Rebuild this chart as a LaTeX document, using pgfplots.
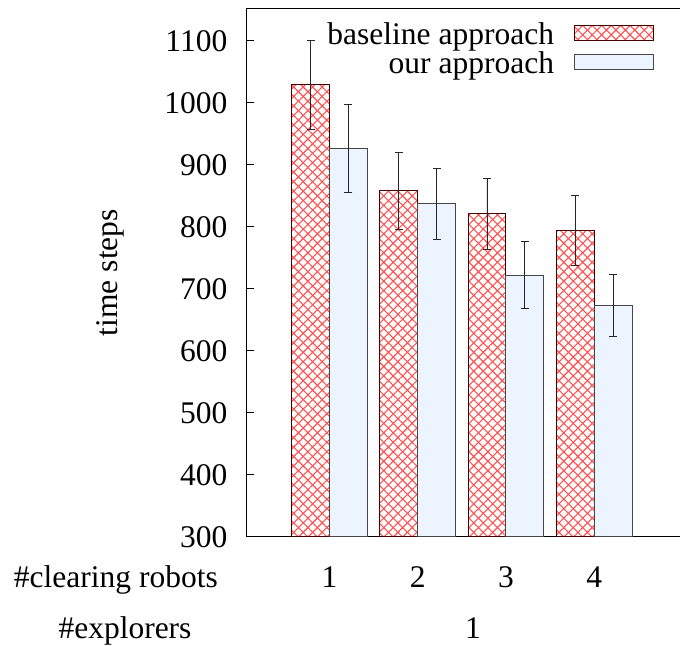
\documentclass[border=0pt]{standalone}
\usepackage{pgfplots}
\pgfplotsset{compat=1.18}
\usepackage{fontspec}
\setmainfont{Liberation Serif}
\usetikzlibrary{patterns.meta}
\newcommand\myfont{\fontsize{31.5bp}{37bp}\selectfont}
\definecolor{hatchred}{RGB}{255,80,80}
\definecolor{baseedge}{RGB}{70,0,0}
\definecolor{ourfill}{RGB}{236,244,255}
\definecolor{ouredge}{RGB}{70,70,70}
\begin{document}
\begin{tikzpicture}[font=\myfont]
\begin{axis}[
  name=ax,
  scale only axis,
  width=438.5bp, height=528bp,
  xmin=0.059, xmax=5.03,
  ymin=300, ymax=1151.6,
  ybar, bar width=0.43,
  ytick={300,400,...,1100},
  xtick={1,2,3,4},
  ytick pos=left,
  tick align=inside,
  major tick length=8bp,
  xtick style={draw=none},
  ytick style={line width=1bp, black},
  axis line style={line width=1.3bp, black},
  /pgf/number format/assume math mode=true,
  /pgf/number format/set thousands separator={},
  tick label style={font=\myfont},
  yticklabel style={anchor=east, inner sep=0pt, xshift=-19bp},
  xticklabel style={anchor=base, inner sep=0pt, yshift=-50.3bp},
  legend cell align=right,
  legend plot pos=right,
  legend style={font=\myfont, draw=none, fill=none, at={(0.9293,0.9742)}, anchor=north east, inner sep=0pt, outer sep=0pt, row sep=5.6bp, column sep=20bp, nodes={inner sep=0pt}},
  legend image code/.code={\draw[#1, bar shift=0pt] (0bp,-6.5bp) rectangle (79bp,8.5bp);},
]
\addplot[draw=baseedge, line width=1bp, bar shift=-0.215,
  pattern={Lines[angle=45,distance=6.7bp,line width=1.1bp]}, pattern color=hatchred,
  postaction={pattern={Lines[angle=-45,distance=6.7bp,line width=1.1bp]}, pattern color=hatchred},
  error bars/.cd, y dir=both, y explicit,
  error bar style={line width=0.9bp, black!85},
  error mark options={rotate=90, mark size=4bp, line width=0.9bp, black!85}]
coordinates {
(1,1029) +- (0,72)
(2,858) +- (0,62)
(3,821) +- (0,57)
(4,794) +- (0,56)
};
\addlegendentry{baseline approach}
\addplot[draw=ouredge, line width=1bp, fill=ourfill, bar shift=0.215,
  error bars/.cd, y dir=both, y explicit,
  error bar style={line width=0.9bp, black!85},
  error mark options={rotate=90, mark size=4bp, line width=0.9bp, black!85}]
coordinates {
(1,926) +- (0,71)
(2,837) +- (0,57)
(3,722) +- (0,53.5)
(4,672.5) +- (0,50)
};
\addlegendentry{our approach}
\end{axis}
\node[rotate=90, anchor=base, inner sep=0pt] at ([shift={(-128.5bp,264bp)}]ax.south west) {time steps};
\node[anchor=base east, inner sep=0pt] at ([shift={(-28.5bp,-50.3bp)}]ax.south west) {\#clearing robots};
\node[anchor=base, inner sep=0pt] at ([shift={(-121.5bp,-101.3bp)}]ax.south west) {\#explorers};
\node[anchor=base, inner sep=0pt] at ([shift={(226.5bp,-101.3bp)}]ax.south west) {1};
\pgfresetboundingbox
\path[use as bounding box] ([shift={(-246.5bp,-109.3bp)}]ax.south west) rectangle ++(680bp,646bp);
\end{tikzpicture}
\end{document}
